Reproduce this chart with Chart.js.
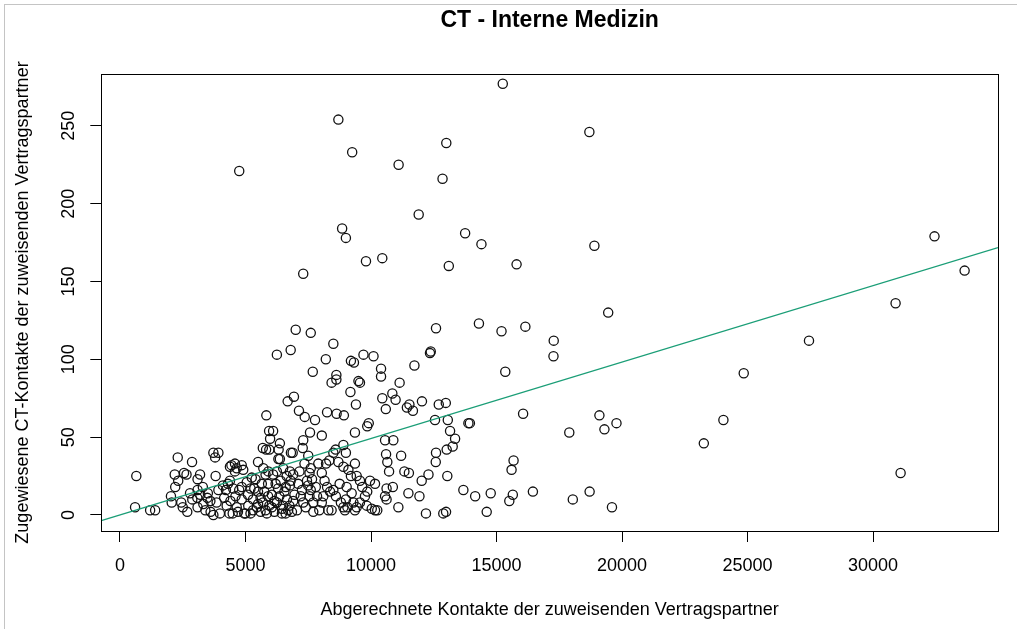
<!DOCTYPE html>
<html>
<head>
<meta charset="utf-8">
<script src="https://cdn.jsdelivr.net/npm/chart.js@4"></script>
<style>
  html, body { margin: 0; padding: 0; background: #fff; }
  #wrap { position: relative; width: 1017px; height: 629px; }
  #rahmen { position: absolute; left: 4px; top: 4px; right: 0; bottom: 0;
            border-left: 1px solid #c4c4c4; border-top: 1px solid #c4c4c4; pointer-events: none; }
</style>
</head>
<body>
<div id="wrap">
  <canvas id="chart" width="1017" height="629"></canvas>
  <div id="rahmen"></div>
</div>
<script>
const xTicks = [0, 5000, 10000, 15000, 20000, 25000, 30000];
const yTicks = [0, 50, 100, 150, 200, 250];
const xRange = [-745, 34980];
const yRange = [-10.3, 283.3];
const fit = [0.0, 0.00491]; // intercept, slope

// [abgerechnete Kontakte, zugewiesene CT-Kontakte]
const punkteLinks = [
  [650,25],[600,5],[1200,3],[1400,3],
  [2030,12],[2060,8],[2300,37],[2180,26],[2320,22],[2550,27],[2650,26],[2440,8],[2680,2],[2870,34],[2790,14],[2880,10],[2500,5],[2200,18],
  [3190,26],[3090,23],[3090,16],[3090,5],[3080,11],[3480,11],[3720,40],[3920,40],[3790,37],[3810,25],[3610,2],[3720,0],[3980,1],[3320,7],[3920,16],[3500,14],[3300,18],[3600,9],[3850,8],[3400,3],[3200,13],
  [4220,16],[4250,6],[4360,1],[4490,1],[4380,31],[4580,33],[4440,32],[4650,30],[4850,32],[4910,29],[4580,28],[4380,22],[4510,17],[4850,18],[4750,16],[4100,19],[4300,20],[4600,12],[4850,10],[4650,5],[4950,1],[4700,2],[4150,11],[4400,9]
];

const punkteDicht = [
  [5050,21],[5250,24],[5500,34],[5710,30],[5820,42],[5110,6],[5000,1],[5200,1],[5300,3],[5450,5],[5600,2],[5700,8],[5800,3],[5900,12],[5500,15],[5300,10],[5650,20],[5900,20],[5400,23],[5800,26],[5100,13],[5950,6],[5690,43],[5910,28],[5940,54],[5980,49],[5950,42],[5350,17],[5600,11],[5750,15],[5200,17],[5500,7],[5850,1],
  [6100,54],[6320,42],[6370,36],[6810,40],[6500,30],[6770,28],[6640,25],[6900,26],[6300,17],[6770,19],[6100,26],[6370,46],[6310,36],[6880,40],[6050,5],[6150,2],[6250,8],[6350,12],[6450,4],[6550,15],[6650,10],[6750,6],[6850,2],[6950,13],[6200,20],[6400,22],[6600,18],[6700,3],[6050,13],[6250,28],[6500,6],[6900,9],[6800,22],[6150,9],[6450,1],[6600,1],
  [7570,53],[7300,48],[7280,43],[7500,38],[7600,30],[7550,27],[7650,23],[7500,19],[7600,16],[7550,12],[7900,33],[7940,3],[7100,20],[7200,12],[7300,8],[7050,3],[7400,5],[7700,8],[7800,18],[7150,28],[7350,33],[7450,22],[7700,2],[7250,16],[7850,12]
];

const punkteUnten = [
  [8040,51],[8040,27],[8210,33],[8340,35],[8500,40],[8590,42],[8700,34],[8900,45],[8900,31],[8370,15],[8500,16],[8100,12],[8040,8],[8300,3],[8430,3],[8900,5],[8150,22],[8600,12],[8750,20],[8800,8],[8250,18],
  [9000,40],[9100,29],[9360,33],[9360,53],[9850,57],[9230,14],[9030,18],[9000,10],[9060,5],[8960,3],[9360,3],[9430,5],[9430,25],[9560,22],[9960,22],[9850,15],[9760,12],[9560,8],[9830,6],[9200,25],[9650,18],[9300,8],
  [10160,20],[10030,4],[10160,3],[10250,3],[10560,48],[10890,48],[10600,39],[10650,34],[10720,28],[10870,18],[10620,17],[10560,12],[10620,10],
  [11200,38],[11330,28],[11510,27],[11490,14],[11090,5],[11930,12],
  [12020,22],[12290,26],[12590,40],[12580,34],[12190,1],[12880,1],[12990,2],
  [13015,42],[13255,44],[13350,49],[13150,54],[13040,25],[13880,59],[13940,59],[13680,16],
  [14150,12],[14610,2],[14770,14],[15650,13],[15510,9],[15680,35],[15600,29],[16450,15],[18040,10],[18710,15],[19600,5],[17900,53],[19100,64],[19300,55],[19780,59],[16060,65],[24040,61],[23260,46],[31100,27]
];

const punkteMitte = [
  [7000,119],[7600,117],[8500,110],[6250,103],[6800,106],[8200,100],[9200,99],[9320,98],[9700,103],[10100,102],[7680,92],[8620,90],[8620,87],[8430,85],[9500,86],[9560,85],[10400,94],[10400,89],[11140,85],[11730,96],[9180,79],[10850,78],[10450,75],[10980,74],[12350,104],[12380,105],[12590,120],[14300,123],[6930,76],[6680,73],[9400,71],[12030,73],[10590,68],[11530,71],[11430,69],[11670,67],[12700,71],[12980,72],[5830,64],[7130,67],[7360,63],[7770,61],[8250,66],[8630,65],[8920,64],[9910,59],[12550,61],[13060,61],
  [15200,118],[16150,121],[17280,112],[17270,102],[27450,112],[15350,92],[24850,91],[19450,130],[30900,136]
];

const punkteOben = [
  [15250,277],[8700,254],[18700,246],[4750,221],[13000,239],[9250,233],[11100,225],[12850,216],[11900,193],[8850,184],[9000,178],[13750,181],[14400,174],[18900,173],[32450,179],[33650,157],[7300,155],[9800,163],[10450,165],[13100,160],[15800,161]
];

const punkte = [].concat(punkteLinks, punkteDicht, punkteUnten, punkteMitte, punkteOben)
  .map(p => ({ x: p[0], y: p[1] }));

const fitLinie = xRange.map(x => ({ x: x, y: fit[0] + fit[1] * x }));

const schrift = { family: 'Liberation Sans, Arial, sans-serif', size: 18 };

/* R-style box around the plot region */
const boxPlugin = {
  id: 'plotBox',
  afterDraw(chart) {
    const { ctx, chartArea: a } = chart;
    ctx.save();
    ctx.strokeStyle = '#000';
    ctx.lineWidth = 1;
    const l = Math.round(a.left) + 0.5, t = Math.round(a.top) + 0.5;
    ctx.strokeRect(l, t, Math.round(a.right) - Math.round(a.left), Math.round(a.bottom) - Math.round(a.top));
    ctx.restore();
  }
};

new Chart(document.getElementById('chart'), {
  type: 'scatter',
  data: {
    datasets: [
      {
        type: 'line',
        data: fitLinie,
        borderColor: '#1b9e77',
        borderWidth: 1.4,
        pointRadius: 0,
        fill: false,
        order: 0
      },
      {
        data: punkte,
        pointStyle: 'circle',
        pointRadius: 4.6,
        borderWidth: 1.3,
        borderColor: '#111',
        backgroundColor: 'rgba(0,0,0,0)',
        order: 1
      }
    ]
  },
  options: {
    responsive: false,
    animation: false,
    events: [],
    layout: { padding: { left: 0, right: 19, top: 0, bottom: 0 } },
    plugins: {
      legend: { display: false },
      tooltip: { enabled: false },
      title: {
        display: true,
        fullSize: false,
        text: 'CT - Interne Medizin',
        color: '#000',
        font: { family: 'Liberation Sans, Arial, sans-serif', size: 23, weight: 'bold' },
        padding: { top: 6.5, bottom: 39.9 }
      }
    },
    scales: {
      x: {
        type: 'linear',
        min: xRange[0],
        max: xRange[1],
        afterBuildTicks: s => { s.ticks = xTicks.map(v => ({ value: v })); },
        afterFit: s => { s.height = 98; },
        grid: { drawOnChartArea: false, drawTicks: true, tickLength: 11, color: '#000', tickColor: '#000' },
        border: { display: false },
        ticks: { color: '#000', font: schrift, padding: 13, maxRotation: 0, autoSkip: false, callback: v => String(v) },
        title: {
          display: true,
          text: 'Abgerechnete Kontakte der zuweisenden Vertragspartner',
          color: '#000',
          font: schrift,
          padding: { top: 0, bottom: 8.4 }
        }
      },
      y: {
        type: 'linear',
        min: yRange[0],
        max: yRange[1],
        afterBuildTicks: s => { s.ticks = yTicks.map(v => ({ value: v })); },
        afterFit: s => { s.width = 101.3; },
        grid: { drawOnChartArea: false, drawTicks: true, tickLength: 11, color: '#000', tickColor: '#000' },
        border: { display: false },
        ticks: { color: '#000', font: schrift, padding: 6.5, minRotation: 90, maxRotation: 90, crossAlign: 'center', autoSkip: false, callback: v => String(v) },
        title: {
          display: true,
          text: 'Zugewiesene CT-Kontakte der zuweisenden Vertragspartner',
          color: '#000',
          font: schrift,
          padding: { top: 12, bottom: 0 }
        }
      }
    }
  },
  plugins: [boxPlugin]
});
</script>
</body>
</html>
